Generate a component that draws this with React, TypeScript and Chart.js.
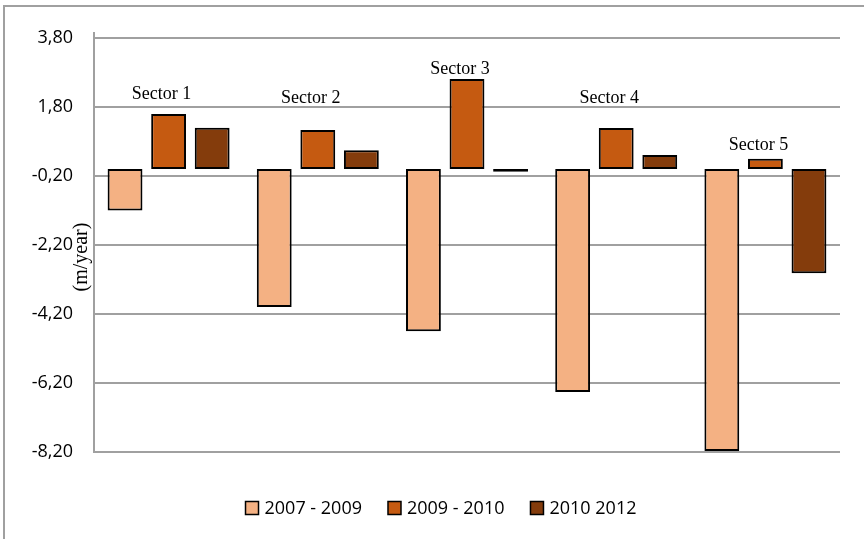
import React, { useEffect, useRef } from "react";
import { Chart, registerables } from "chart.js";

Chart.register(...registerables);

const categories = ["Sector 1", "Sector 2", "Sector 3", "Sector 4", "Sector 5"];
const seriesLabels = ["2007 - 2009", "2009 - 2010", "2010 2012"];
const values20072009 = [-1.2, -4.0, -4.7, -6.46, -8.17];
const values20092010 = [1.6, 1.13, 2.61, 1.19, 0.3];
const values20102012 = [1.2, 0.55, -0.08, 0.41, -3.02];
const sectorLabelLevels = [2.03, 1.93, 2.77, 1.93, 0.55];
const yMin = -8.2;
const yMax = 3.8;
const yStep = 2;
const yTitle = "(m/year)";

const seriesColors = ["#F4B183", "#C55A11", "#843C0C"];

const frame = {
  id: "frame",
  beforeDraw(chart: any) {
    const { ctx, width, height, chartArea } = chart;
    ctx.save();
    ctx.strokeStyle = "#a0a0a0";
    ctx.lineWidth = 2;
    ctx.beginPath();
    ctx.moveTo(4, height + 2);
    ctx.lineTo(4, 6);
    ctx.lineTo(width + 2, 6);
    ctx.stroke();
    // y axis line extends slightly above the plot area
    ctx.beginPath();
    ctx.moveTo(chartArea.left, chartArea.top - 6);
    ctx.lineTo(chartArea.left, chartArea.top);
    ctx.stroke();
    ctx.restore();
  },
};

const annotations = {
  id: "annotations",
  afterDraw(chart: any) {
    const { ctx, chartArea, width } = chart;
    const xs = chart.scales.x;
    const ys = chart.scales.y;
    ctx.save();
    // sector labels
    ctx.font = "18px 'Liberation Serif', 'Times New Roman', serif";
    ctx.fillStyle = "#000";
    ctx.textAlign = "center";
    ctx.textBaseline = "alphabetic";
    categories.forEach((c, i) => {
      ctx.fillText(c, xs.getPixelForValue(i) - 7, ys.getPixelForValue(sectorLabelLevels[i]));
    });
    // y title
    ctx.save();
    ctx.translate(chartArea.left - 12, ys.getPixelForValue(-2.55));
    ctx.rotate(-Math.PI / 2);
    ctx.font = "20px 'Liberation Serif', 'Times New Roman', serif";
    ctx.textAlign = "center";
    ctx.textBaseline = "middle";
    ctx.fillText(yTitle, 0, 0);
    ctx.restore();
    // legend
    ctx.font = "18px 'Open Sans'";
    const box = 13;
    const gapText = 6;
    const gapItem = 26;
    const widths = chart.data.datasets.map((d: any) => box + gapText + ctx.measureText(d.label).width);
    const total = widths.reduce((a: number, b: number) => a + b, 0) + gapItem * (widths.length - 1);
    let x = width / 2 + 9 - total / 2;
    const cy = 508;
    chart.data.datasets.forEach((d: any, i: number) => {
      ctx.fillStyle = d.backgroundColor;
      ctx.fillRect(x, cy - box / 2, box, box);
      ctx.strokeStyle = "#000";
      ctx.lineWidth = 1.5;
      ctx.strokeRect(x, cy - box / 2, box, box);
      ctx.fillStyle = "#000";
      ctx.textAlign = "left";
      ctx.textBaseline = "middle";
      ctx.fillText(d.label, x + box + gapText, cy + 1);
      x += widths[i] + gapItem;
    });
    ctx.restore();
  },
};

export default function App() {
  const ref = useRef<HTMLCanvasElement>(null);
  useEffect(() => {
    if (!ref.current) return;
    const seriesValues = [values20072009, values20092010, values20102012];
    const chart = new Chart(ref.current, {
      type: "bar",
      data: {
        labels: categories,
        datasets: seriesLabels.map((label, i) => ({
          label,
          data: seriesValues[i],
          backgroundColor: seriesColors[i],
          borderColor: "#000",
          borderWidth: 2,
          borderSkipped: false,
          categoryPercentage: 0.876,
          barPercentage: 0.8,
        })),
      },
      options: {
        responsive: false,
        animation: false,
        devicePixelRatio: 1,
        layout: { padding: { left: 0, top: 38, right: 24, bottom: 87 } },
        plugins: {
          legend: { display: false },
          tooltip: { enabled: false },
        },
        scales: {
          x: { display: false },
          y: {
            min: yMin,
            max: yMax,
            afterFit(scale: any) {
              scale.width = 94;
            },
            ticks: {
              stepSize: yStep,
              padding: 21,
              color: "#000",
              font: { family: "'Open Sans'", size: 18 },
              callback: (v: any) => Number(v).toFixed(2).replace(".", ","),
            },
            grid: { color: "#a0a0a0", lineWidth: 2, drawTicks: false },
            border: { display: true, color: "#a0a0a0", width: 2 },
          },
        },
      },
      plugins: [frame, annotations],
    });
    return () => chart.destroy();
  }, []);
  return (
    <div style={{ position: "absolute", left: 0, top: 0, width: 864, height: 539 }}>
      <canvas ref={ref} width={864} height={539} style={{ display: "block" }} />
    </div>
  );
}
